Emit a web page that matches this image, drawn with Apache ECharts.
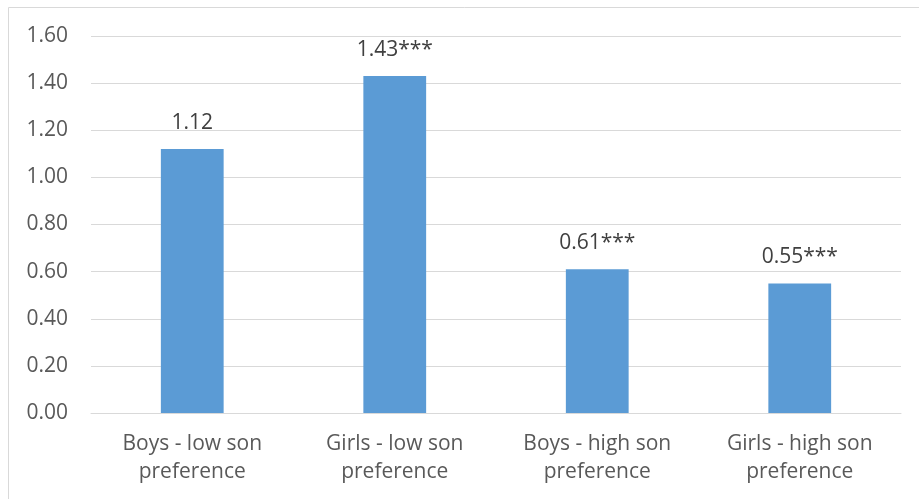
<!DOCTYPE html>
<html>
<head>
<meta charset="utf-8">
<script src="https://cdn.jsdelivr.net/npm/echarts@6/dist/echarts.min.js"></script>
<style>
  html, body { margin: 0; padding: 0; background: #ffffff; }
  #chart { width: 919px; height: 499px; }
</style>
</head>
<body>
<div id="chart"></div>
<script>
// Groups along the horizontal axis
const categories = [
  'Boys - low son\npreference',
  'Girls - low son\npreference',
  'Boys - high son\npreference',
  'Girls - high son\npreference'
];
// Bar heights
const values = [1.12, 1.43, 0.61, 0.55];
// Significance stars appended to each value label
const stars = ['', '***', '***', '***'];

const FONT = '"Open Sans", "Liberation Sans", sans-serif';
const TEXT = '#595959';
const VALUE_TEXT = '#404040';
const GRID = '#d9d9d9';

const chart = echarts.init(document.getElementById('chart'));
chart.setOption({
  animation: false,
  textStyle: { fontFamily: FONT },
  graphic: [{
    type: 'rect',
    shape: { x: 8.5, y: 7.5, width: 930, height: 520 },
    style: { fill: 'none', stroke: GRID, lineWidth: 1 },
    silent: true,
    z: -1
  }],
  grid: { left: 91, right: 18, top: 36, bottom: 86, containLabel: false },
  xAxis: {
    type: 'category',
    data: categories,
    axisLine: { show: true, lineStyle: { color: GRID, width: 1 } },
    axisTick: { show: false },
    axisLabel: {
      color: TEXT, fontSize: 21, fontFamily: FONT,
      lineHeight: 28, margin: 17, interval: 0
    }
  },
  yAxis: {
    type: 'value',
    min: 0, max: 1.6, interval: 0.2,
    axisLine: { show: false },
    axisTick: { show: false },
    splitLine: { lineStyle: { color: GRID, width: 1 } },
    axisLabel: {
      color: TEXT, fontSize: 21, fontFamily: FONT, margin: 23,
      formatter: v => v.toFixed(2)
    }
  },
  series: [{
    type: 'bar',
    data: values,
    barWidth: '31%',
    itemStyle: { color: '#5b9bd5' },
    label: {
      show: true,
      position: 'top',
      distance: 16,
      color: VALUE_TEXT, fontSize: 21, fontFamily: FONT,
      formatter: p => p.value.toFixed(2) + stars[p.dataIndex]
    }
  }]
});
</script>
</body>
</html>
